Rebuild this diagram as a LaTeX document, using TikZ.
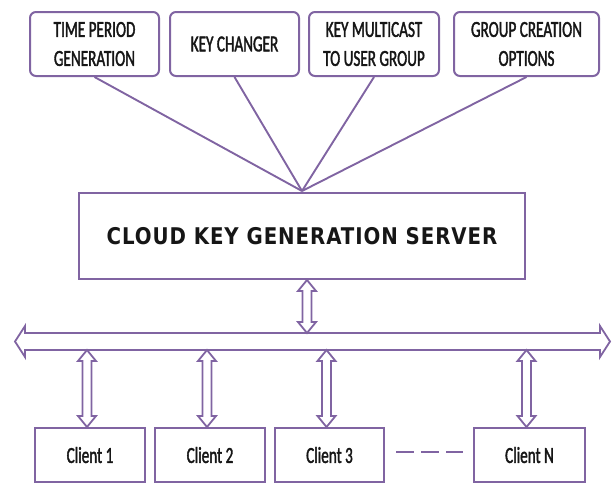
\documentclass[tikz,border=0pt]{standalone}
\usepackage{fontspec}
\setmainfont{Carlito}
\newfontfamily\boxfont[FakeStretch=0.66, FakeBold=1.6]{Carlito}
\newfontfamily\srvfont[FakeStretch=0.86, LetterSpace=4]{DejaVu Sans}
\usetikzlibrary{calc}
\definecolor{lila}{RGB}{128,100,162}
\definecolor{schrift}{RGB}{22,22,22}
\tikzset{
  aufgabe/.style={draw=lila, line width=2pt, rounded corners=6pt,
    minimum width=129pt, minimum height=64pt, inner sep=0pt,
    align=center, text=schrift, font={\boxfont\fontsize{23}{29}\selectfont}},
  server/.style={draw=lila, line width=2pt, minimum width=446pt,
    minimum height=86pt, inner sep=0pt, text=schrift,
    font={\srvfont\bfseries\fontsize{23}{26}\selectfont}},
  client/.style={draw=lila, line width=2pt, minimum width=110pt,
    minimum height=54pt, inner sep=0pt, text=schrift,
    font={\boxfont\fontsize{23}{26}\selectfont}},
  strahl/.style={draw=lila, line width=1.9pt},
  pfeil/.style={draw=lila, line width=1.8pt, fill=white, line join=miter}
}
%senkrechter Doppelpfeil von #1 (oben) nach #2 (unten)
\newcommand{\vdarrow}[2]{%
  \draw[pfeil] (#1) -- ([shift={(9,11)}]#1) -- ([shift={(4.5,11)}]#1)
    -- ([shift={(4.5,-11)}]#2) -- ([shift={(9,-11)}]#2) -- (#2)
    -- ([shift={(-9,-11)}]#2) -- ([shift={(-4.5,-11)}]#2)
    -- ([shift={(-4.5,11)}]#1) -- ([shift={(-9,11)}]#1) -- cycle;}
\begin{document}
\begin{tikzpicture}[x=1pt,y=-1pt]
\useasboundingbox (0,0) rectangle (612,483);
%Aufgaben oben
	\node (zeit) at (94.5,44) [aufgabe] {TIME PERIOD\\GENERATION};
	\node (wechsel) at (234.5,44) [aufgabe] {KEY CHANGER};
	\node (multi) at (374,44) [aufgabe, minimum width=130pt] {KEY MULTICAST\\TO USER GROUP};
	\node (gruppe) at (526.5,44) [aufgabe, minimum width=145pt] {GROUP CREATION\\OPTIONS};
%Server
	\node (srv) at (302,236) [server] {CLOUD KEY GENERATION SERVER};
	\coordinate (mitte) at ([yshift=1pt]srv.north);
	\foreach \k in {zeit,wechsel,multi,gruppe}{
	  \draw[strahl] (\k.south) -- (mitte);}
%Bus
	\coordinate (busL) at (15,341.5);
	\coordinate (busR) at (610,341.5);
	\coordinate (busT) at (0,333);
	\coordinate (busB) at (0,350);
	\draw[pfeil] (busL) -- ([shift={(10,-15.5)}]busL) -- ([shift={(10,-8.5)}]busL)
	  -- ([shift={(-10,-8.5)}]busR) -- ([shift={(-10,-15.5)}]busR) -- (busR)
	  -- ([shift={(-10,15.5)}]busR) -- ([shift={(-10,8.5)}]busR)
	  -- ([shift={(10,8.5)}]busL) -- ([shift={(10,15.5)}]busL) -- cycle;
	\coordinate (srvA) at ([xshift=5pt]srv.south);
	\coordinate (srvB) at (srvA |- busT);
	\vdarrow{srvA}{srvB}
%Clients
	\node (c1) at (90,455) [client] {Client 1};
	\node (c2) at (210,455) [client] {Client 2};
	\node (c3) at (329.5,455) [client, minimum width=109pt] {Client 3};
	\node (cN) at (529.5,455) [client, minimum width=111pt] {Client N};
	\foreach \c in {c1,c2,c3,cN}{
	  \coordinate (\c u) at ([xshift=-3pt]\c.north);
	  \coordinate (\c o) at (\c u |- busB);
	  \vdarrow{\c o}{\c u}}
	\draw[strahl, dash pattern=on 18pt off 7pt, shorten <=11pt, shorten >=10pt]
	  ([yshift=3pt]c3.east) -- ([yshift=3pt]cN.west);
\end{tikzpicture}
\end{document}
